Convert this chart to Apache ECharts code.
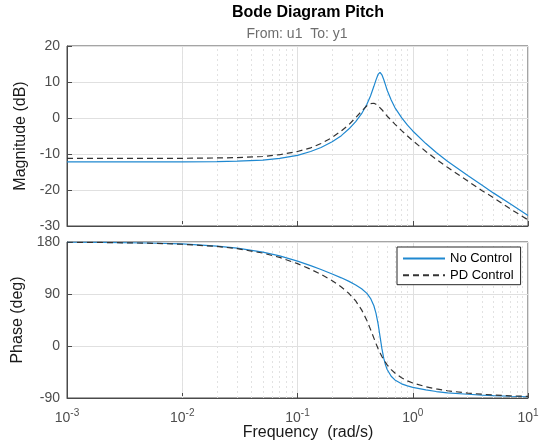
<!DOCTYPE html>
<html><head><meta charset="utf-8">
<script src="https://cdn.jsdelivr.net/npm/echarts@6/dist/echarts.min.js"></script>
<style>html,body{margin:0;padding:0;background:#fff;} #c{width:544px;height:444px;}</style>
</head><body><div id="c"></div>
<script>
// ---- data ----
const freq = [0.001,0.002,0.005,0.01,0.02,0.03,0.05,0.07,0.1,0.13,0.16,0.2,0.24,0.28,0.32,0.36,0.4,0.43,0.46,0.48,0.5,0.52,0.54,0.56,0.58,0.6,0.65,0.7,0.8,0.9,1,1.3,1.6,2,3,4,5,7,10];
const magNoControl = [-12.2,-12.2,-12.2,-12.2,-12.1,-12.0,-11.7,-11.2,-10.4,-9.3,-8.2,-6.6,-4.9,-3.0,-1.0,1.2,3.8,6.1,8.8,10.6,12.1,12.7,12.0,10.7,9.2,7.7,5.0,2.9,0.1,-2.0,-3.6,-7.1,-9.6,-12.0,-16.0,-18.7,-20.8,-23.8,-27.1];
const magPDControl = [-11.2,-11.2,-11.2,-11.2,-11.1,-11.0,-10.7,-10.2,-9.3,-8.3,-7.1,-5.4,-3.6,-1.8,0.1,1.9,3.4,4.0,4.1,3.8,3.4,2.9,2.3,1.7,1.1,0.5,-0.6,-1.7,-3.5,-5.0,-6.3,-9.3,-11.5,-13.7,-17.5,-20.2,-22.1,-25.2,-28.3];
const phaseNoControl = [179.6,179.3,178.3,176.6,173.0,169.5,162.5,156.0,147.0,139.2,132.4,124.6,118.0,111.8,105.7,99.0,91.0,82.5,69.6,56.6,38.6,16.6,-4.7,-21.1,-32.6,-40.7,-52.3,-58.7,-65.5,-69.0,-71.5,-76.0,-78.8,-81.0,-83.5,-85.0,-86.0,-87.0,-87.8];
const phasePDControl = [179.6,179.2,178.0,176.1,172.3,168.5,160.8,153.3,142.5,132.8,124.0,113.0,102.2,90.8,78.0,62.5,44.2,28.8,13.6,4.1,-4.3,-11.8,-18.2,-23.8,-28.5,-32.6,-40.8,-46.8,-55.0,-60.3,-64.1,-70.5,-74.2,-77.5,-81.5,-83.5,-84.8,-86.2,-87.3];
const seriesNames = ['No Control', 'PD Control'];
const magRange = [-30, 20], magStep = 10;
const phaseRange = [-90, 180], phaseStep = 90;
const freqRange = [0.001, 10];
const decades = [0.001, 0.01, 0.1, 1];
const minorMult = [2,3,4,5,6,7,8,9];

// ---- build ----
const minorFreqs = [];
decades.forEach(d => minorMult.forEach(m => minorFreqs.push(+(m * d).toPrecision(3))));
const pairs = (xs, ys) => xs.map((x, i) => [x, ys[i]]);
const FONT = '"Liberation Sans", Arial, Helvetica, sans-serif';
const BOX = '#4a4a4a';
const TXT = '#4d4d4d';

const minorLines = {
  silent: true, symbol: ['none', 'none'], z: 1, animation: false,
  label: { show: false },
  lineStyle: { color: '#e2e2e2', type: [2, 3], width: 1 },
  data: minorFreqs.map(v => ({ xAxis: v }))
};

function xAxisCfg(gi, labels) {
  return {
    type: 'log', logBase: 10, min: freqRange[0], max: freqRange[1], gridIndex: gi, splitNumber: 4,
    axisLine: { show: true, onZero: false, lineStyle: { color: BOX, width: 1 } },
    axisTick: { show: true, inside: true, length: 5, lineStyle: { color: BOX } },
    splitLine: { show: true, lineStyle: { color: '#e0e0e0', width: 1 } },
    axisLabel: labels ? {
      show: true, margin: 10, color: TXT, fontFamily: FONT,
      formatter: v => '{b|10}{s|' + Math.round(Math.log10(v)) + '}',
      rich: {
        b: { fontSize: 14, fontFamily: FONT, color: TXT, verticalAlign: 'bottom' },
        s: { fontSize: 10, fontFamily: FONT, color: TXT, padding: [0, 0, 7, 0], verticalAlign: 'bottom' }
      }
    } : { show: false }
  };
}
function yAxisCfg(gi, range, step, name) {
  return {
    type: 'value', gridIndex: gi, min: range[0], max: range[1], interval: step,
    name: name, nameLocation: 'middle', nameGap: 33,
    nameTextStyle: { fontSize: 16, color: '#1a1a1a', fontFamily: FONT },
    axisLine: { show: true, onZero: false, lineStyle: { color: BOX, width: 1 } },
    axisTick: { show: true, inside: true, length: 5, lineStyle: { color: BOX } },
    splitLine: { show: true, lineStyle: { color: '#e0e0e0', width: 1 } },
    axisLabel: { fontSize: 14, color: TXT, margin: 7, fontFamily: FONT }
  };
}
const blue = { color: '#1f88d0', width: 1.2, type: 'solid' };
const dash = { color: '#333333', width: 1.2, type: [6, 4] };
function lineSeries(name, gi, ys, style, extra) {
  return Object.assign({
    name, type: 'line', xAxisIndex: gi, yAxisIndex: gi, data: pairs(freq, ys),
    symbol: 'none', showSymbol: false, smooth: false, z: 3, clip: true,
    lineStyle: style, itemStyle: { color: style.color }
  }, extra || {});
}

const chart = echarts.init(document.getElementById('c'), null, { renderer: 'canvas' });
chart.setOption({
  animation: false,
  backgroundColor: '#ffffff',
  textStyle: { fontFamily: FONT },
  grid: [
    { left: 67, top: 46, width: 461, height: 180, show: true, borderColor: BOX, borderWidth: 1, backgroundColor: 'transparent' },
    { left: 67, top: 242, width: 461, height: 156, show: true, borderColor: BOX, borderWidth: 1, backgroundColor: 'transparent' }
  ],
  xAxis: [xAxisCfg(0, false), xAxisCfg(1, true)],
  yAxis: [yAxisCfg(0, magRange, magStep, 'Magnitude (dB)'), yAxisCfg(1, phaseRange, phaseStep, 'Phase (deg)')],
  legend: {
    data: seriesNames, orient: 'vertical', left: 397, top: 247,
    padding: [5, 7, 3, 5], itemWidth: 42, itemHeight: 14, itemGap: 3.7,
    backgroundColor: '#ffffff', borderColor: '#262626', borderWidth: 1, borderRadius: 0,
    textStyle: { fontSize: 13, color: '#000', fontFamily: FONT },
    itemStyle: { opacity: 0, borderWidth: 0 }
  },
  graphic: [
    { type: 'text', x: 308, y: 13, style: { text: 'Bode Diagram Pitch', font: 'bold 16px ' + FONT, fill: '#000', align: 'center', verticalAlign: 'middle' } },
    { type: 'text', x: 297, y: 34, style: { text: 'From: u1  To: y1', font: '14px ' + FONT, fill: '#6e6e6e', align: 'center', verticalAlign: 'middle' } },
    { type: 'text', x: 308, y: 433, style: { text: 'Frequency  (rad/s)', font: '16px ' + FONT, fill: '#1a1a1a', align: 'center', verticalAlign: 'middle' } }
  ],
  series: [
    lineSeries(seriesNames[0], 0, magNoControl, blue, { markLine: minorLines }),
    lineSeries(seriesNames[1], 0, magPDControl, dash),
    lineSeries(seriesNames[0], 1, phaseNoControl, blue, { markLine: minorLines }),
    lineSeries(seriesNames[1], 1, phasePDControl, dash)
  ]
});
</script></body></html>
